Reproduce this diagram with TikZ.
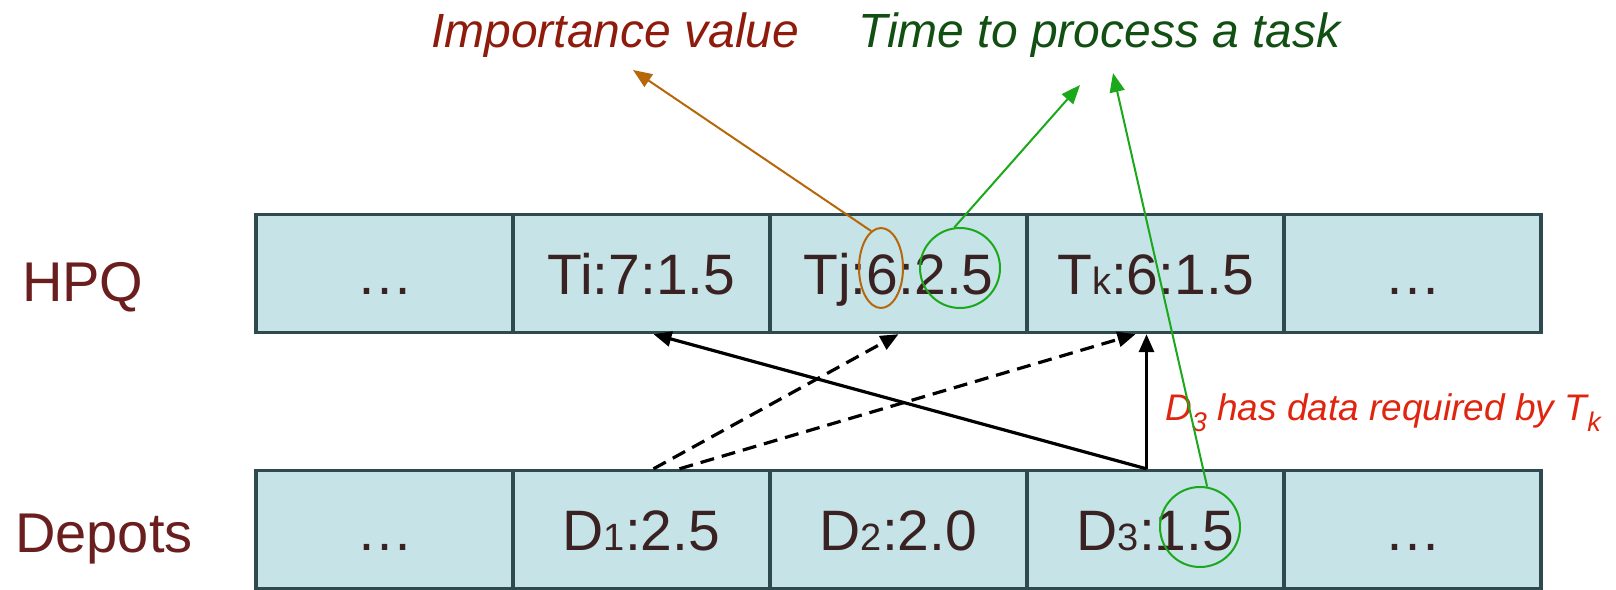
\documentclass[tikz,border=0pt]{standalone}
\usepackage{fontspec}
\setmainfont{Liberation Sans}
\usetikzlibrary{arrows.meta,shapes.geometric,calc}

\definecolor{cellfill}{HTML}{C6E3E7}
\definecolor{cellline}{HTML}{2F4A4E}
\definecolor{celltext}{HTML}{3A2222}
\definecolor{rowlabel}{HTML}{6A1E1E}
\definecolor{impred}{HTML}{8E1B0C}
\definecolor{timegreen}{HTML}{124F12}
\definecolor{impbrown}{HTML}{B5670A}
\definecolor{markgreen}{HTML}{1BA81B}
\definecolor{notered}{HTML}{E0250F}

% smaller index letters/digits inside the cells
\newcommand\idx[1]{{\fontsize{38}{38}\selectfont #1}}

\begin{document}
\begin{tikzpicture}[x=1pt,y=-1pt,
  cell/.style={draw=cellline, line width=3.4pt, fill=cellfill,
    minimum width=257pt, minimum height=118pt, inner sep=0pt,
    text height=41pt, text depth=0pt, text=celltext,
    font=\fontsize{57}{60}\selectfont},
  rowname/.style={anchor=base west, inner sep=0pt, text=rowlabel,
    font=\fontsize{56}{60}\selectfont},
  headline/.style={anchor=base west, inner sep=0pt,
    font=\fontsize{48}{50}\selectfont\itshape},
  link/.style={draw=black, line width=3.2pt,
    -{Triangle[length=18pt,width=15pt]}},
  dlink/.style={link, dash pattern=on 14pt off 8pt},
  ring/.style={draw, line width=2pt, inner sep=0pt, ellipse},
  pointer/.style={line width=2pt, -{Triangle[length=19pt,width=15pt]}}]

\useasboundingbox (0,0) rectangle (1616,589);

% row labels
\node[rowname] (lhpq) at (22,301) {HPQ};
\node[rowname] (ldep) at (15,552) {Depots};

% HPQ row
\node[cell] (h0) at (384.5,273.5) {…};
\node[cell] (h1) at (641.5,273.5) {Ti:7:1.5};
\node[cell] (h2) at (898.5,273.5) {Tj:6:2.5};
\node[cell] (h3) at (1155.5,273.5) {T\idx{k}:6:1.5};
\node[cell] (h4) at (1412.5,273.5) {…};

% depot row
\node[cell] (d0) at (384.5,529.5) {…};
\node[cell] (d1) at (641.5,529.5) {D\idx{1}:2.5};
\node[cell] (d2) at (898.5,529.5) {D\idx{2}:2.0};
\node[cell] (d3) at (1155.5,529.5) {D\idx{3}:1.5};
\node[cell] (d4) at (1412.5,529.5) {…};

% depot-to-task links
\coordinate (d1a) at ($(d1.north)+(12,0)$);
\coordinate (d1b) at ($(d1.north)+(38,0)$);
\coordinate (d3a) at ($(d3.north)+(-9,0)$);
\draw[dlink] (d1a) -- (h2.south);
\draw[dlink] (d1b) -- ($(h3.south)+(-20,0)$);
\draw[link] (d3a) -- ($(h1.south)+(12,0)$);
\draw[link] (d3a) -- (h3.south -| d3a);

% annotations
\node[headline, text=impred] (timp) at (431,47) {Importance value};
\node[headline, text=timegreen] (ttime) at (858,47) {Time to process a task};
\node[anchor=base west, inner sep=0pt, text=notered,
  font=\fontsize{37}{40}\selectfont\itshape] (note) at (1165,420)
  {D\raisebox{-0.32em}{\fontsize{27}{27}\selectfont 3} has data required by T\raisebox{-0.32em}{\fontsize{27}{27}\selectfont k}};

% highlighted fields
\node[ring, draw=impbrown, minimum width=44pt, minimum height=80pt] (eimp) at (881,268) {};
\node[ring, draw=markgreen, minimum width=80pt, minimum height=80pt] (etime) at (960,268) {};
\node[ring, draw=markgreen, minimum width=80pt, minimum height=80pt] (edep) at (1200,527) {};

\coordinate (pimp) at (633,70);
\coordinate (ptime) at (1080,85);
\coordinate (pdep) at (1113,73);
\draw[pointer, draw=impbrown, fill=impbrown] (eimp.105) -- (pimp);
\draw[pointer, draw=markgreen, fill=markgreen] (etime.98) -- (ptime);
\draw[pointer, draw=markgreen, fill=markgreen] (edep.80) -- (pdep);
\end{tikzpicture}
\end{document}
